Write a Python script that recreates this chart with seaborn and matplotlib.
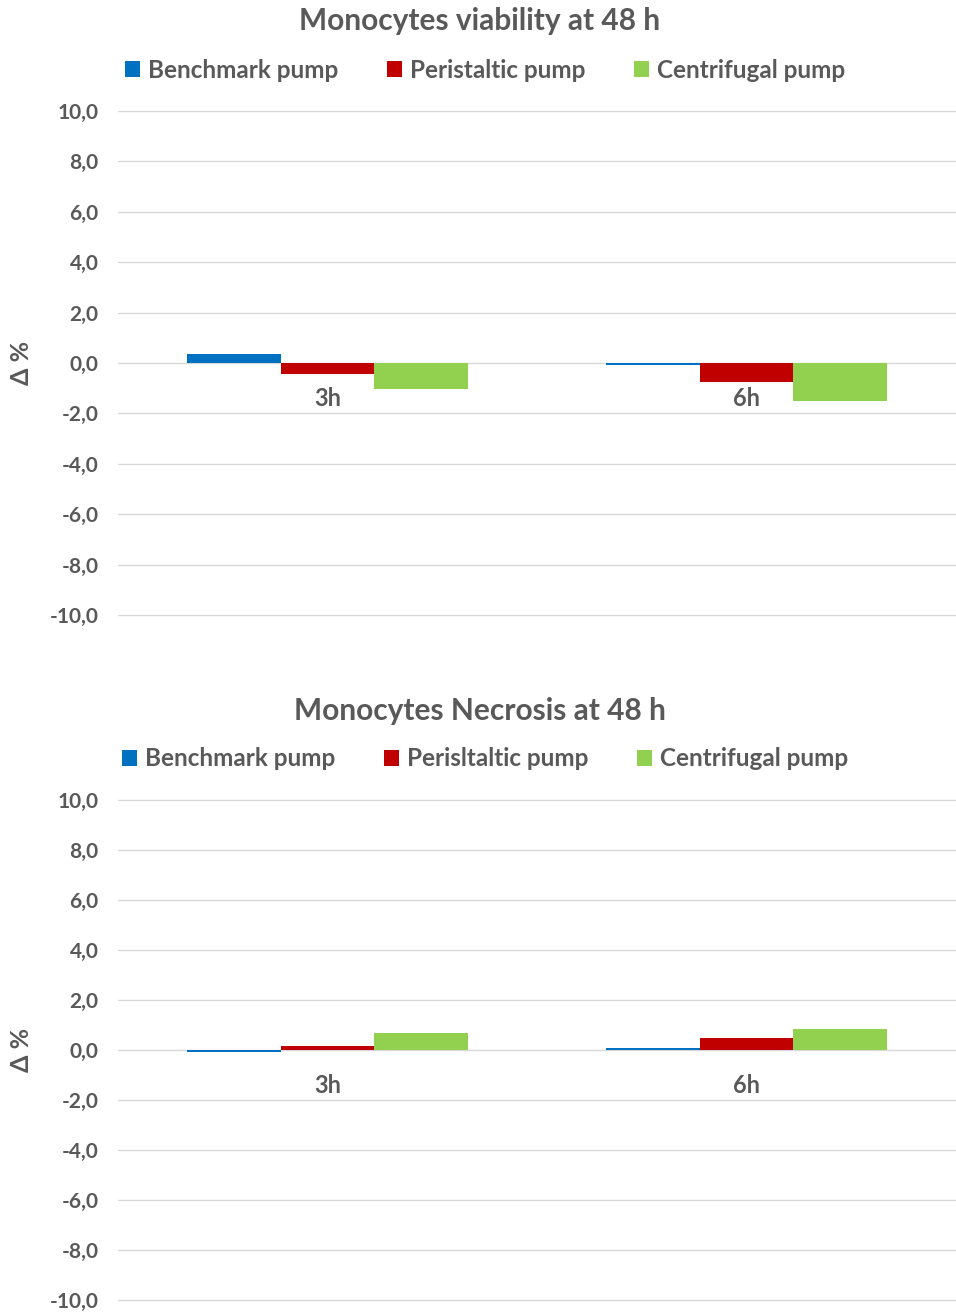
import matplotlib
matplotlib.use("Agg")
import matplotlib.pyplot as plt
import seaborn as sns
import pandas as pd
import numpy as np
from matplotlib.ticker import FuncFormatter

sns.set_theme(style="white")
plt.rcParams['font.family'] = ['Lato', 'DejaVu Sans']

categories = ["3h", "6h"]
series_top = ["Benchmark pump", "Peristaltic pump", "Centrifugal pump"]
series_bot = ["Benchmark pump", "Perisltaltic pump", "Centrifugal pump"]
viability = {
    "Benchmark pump": [0.34, -0.07],
    "Peristaltic pump": [-0.43, -0.75],
    "Centrifugal pump": [-1.04, -1.49],
}
necrosis = {
    "Benchmark pump": [-0.07, 0.10],
    "Perisltaltic pump": [0.17, 0.47],
    "Centrifugal pump": [0.67, 0.83],
}
titles = ["Monocytes viability at 48 h", "Monocytes Necrosis at 48 h"]
yticks = [10, 8, 6, 4, 2, 0, -2, -4, -6, -8, -10]
colors = ["#0070C0", "#C00000", "#92D050"]
gray = "#595959"

fig = plt.figure(figsize=(9.56, 13.13), dpi=100)
ax1 = fig.add_axes([0.1234, 0.5316, 0.8766, 0.3839])
ax2 = fig.add_axes([0.1234, 0.0099, 0.8766, 0.3808])

def draw(ax, data, series, title, title_y, leg_y):
    rows = []
    for s in series:
        for c, v in zip(categories, data[s]):
            rows.append({"cat": c, "series": s, "val": v})
    df = pd.DataFrame(rows)
    sns.barplot(data=df, x="cat", y="val", hue="series", order=categories,
                hue_order=series, palette=colors, width=0.67, ax=ax,
                saturation=1, edgecolor="none", linewidth=0)
    ax.set_ylim(-10, 10)
    ax.set_xlim(-0.5, 1.5)
    ax.set_yticks(yticks)
    ax.yaxis.set_major_formatter(FuncFormatter(lambda v, p: f"{v:.1f}".replace(".", ",")))
    ax.grid(axis="y", color="#D9D9D9", linewidth=1)
    for gl in ax.get_ygridlines():
        gl.set_clip_on(False)
    ax.set_axisbelow(True)
    for sp in ax.spines.values():
        sp.set_visible(False)
    ax.tick_params(axis="y", length=0, pad=14, labelsize=15, labelcolor=gray)
    for lab in ax.get_yticklabels():
        lab.set_fontweight("bold")
    ax.set_xticks([])
    ax.set_xlabel("")
    ax.set_ylabel("Δ %", fontsize=18, fontweight="bold", color=gray, labelpad=12)
    for i, c in enumerate(categories):
        ax.text(i, -1.4, c, ha="center", va="center", fontsize=17,
                fontweight="bold", color=gray)
    ax.legend_.remove()
    handles, labels = ax.get_legend_handles_labels()
    fig.legend(handles, labels, loc="center", bbox_to_anchor=(0.507, leg_y),
               ncol=3, frameon=False, handlelength=0.65,
               handleheight=0.65, handletextpad=0.3, columnspacing=2.0,
               labelcolor=gray, prop={"weight": "bold", "size": 17.5})
    fig.text(0.502, title_y, title, ha="center", va="center", fontsize=21.5,
             fontweight="bold", color=gray)

draw(ax1, viability, series_top, titles[0], 1 - 21/1313, 1 - 70/1313)
draw(ax2, necrosis, series_bot, titles[1], 1 - 711/1313, 1 - 759/1313)

fig.savefig("out.png", dpi=100)
